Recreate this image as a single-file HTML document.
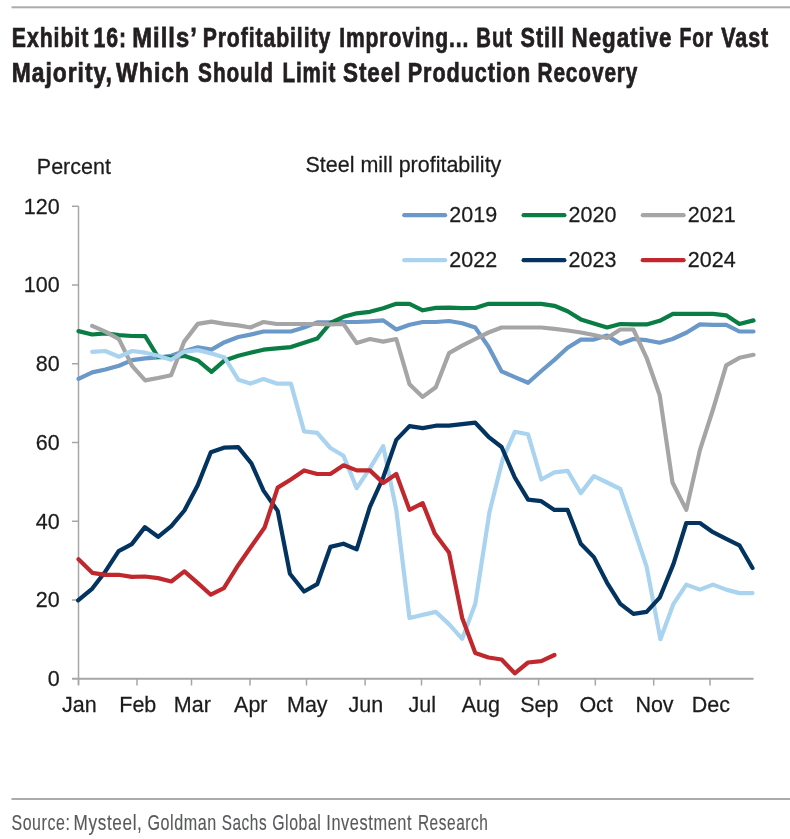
<!DOCTYPE html>
<html><head><meta charset="utf-8"><style>
html,body{margin:0;padding:0;background:#fff;width:790px;height:839px;overflow:hidden;position:relative}
svg{filter:blur(0.35px)}
</style></head><body>
<svg width="790" height="839" style="position:absolute;left:0;top:0"><rect x="11.5" y="6.3" width="778.5" height="2" fill="#ababab"/><rect x="11.5" y="798" width="778.5" height="2" fill="#ababab"/><line x1="78.5" y1="206.25" x2="78.5" y2="685" stroke="#a6a6a6" stroke-width="1.5"/><line x1="72" y1="600.00" x2="78.5" y2="600.00" stroke="#a6a6a6" stroke-width="1.5"/><line x1="72" y1="521.25" x2="78.5" y2="521.25" stroke="#a6a6a6" stroke-width="1.5"/><line x1="72" y1="442.50" x2="78.5" y2="442.50" stroke="#a6a6a6" stroke-width="1.5"/><line x1="72" y1="363.75" x2="78.5" y2="363.75" stroke="#a6a6a6" stroke-width="1.5"/><line x1="72" y1="285.00" x2="78.5" y2="285.00" stroke="#a6a6a6" stroke-width="1.5"/><line x1="72" y1="206.25" x2="78.5" y2="206.25" stroke="#a6a6a6" stroke-width="1.5"/><line x1="72" y1="678.75" x2="753.5" y2="678.75" stroke="#a6a6a6" stroke-width="2"/><line x1="78.5" y1="678.75" x2="78.5" y2="685.5" stroke="#a6a6a6" stroke-width="1.5"/><line x1="137.0" y1="678.75" x2="137.0" y2="685.5" stroke="#a6a6a6" stroke-width="1.5"/><line x1="191.5" y1="678.75" x2="191.5" y2="685.5" stroke="#a6a6a6" stroke-width="1.5"/><line x1="250.0" y1="678.75" x2="250.0" y2="685.5" stroke="#a6a6a6" stroke-width="1.5"/><line x1="306.5" y1="678.75" x2="306.5" y2="685.5" stroke="#a6a6a6" stroke-width="1.5"/><line x1="365.1" y1="678.75" x2="365.1" y2="685.5" stroke="#a6a6a6" stroke-width="1.5"/><line x1="421.5" y1="678.75" x2="421.5" y2="685.5" stroke="#a6a6a6" stroke-width="1.5"/><line x1="480.1" y1="678.75" x2="480.1" y2="685.5" stroke="#a6a6a6" stroke-width="1.5"/><line x1="538.6" y1="678.75" x2="538.6" y2="685.5" stroke="#a6a6a6" stroke-width="1.5"/><line x1="595.3" y1="678.75" x2="595.3" y2="685.5" stroke="#a6a6a6" stroke-width="1.5"/><line x1="653.7" y1="678.75" x2="653.7" y2="685.5" stroke="#a6a6a6" stroke-width="1.5"/><line x1="710.0" y1="678.75" x2="710.0" y2="685.5" stroke="#a6a6a6" stroke-width="1.5"/><polyline points="78.5,378.9 92.2,372.4 105.3,369.5 119.0,365.8 132.1,360.1 145.2,358.4 158.0,357.5 171.1,355.8 184.2,351.3 197.8,347.3 211.5,349.6 224.6,342.2 238.3,337.0 250.4,334.6 263.5,331.5 276.7,331.5 290.9,331.5 304.1,327.5 317.2,322.4 330.4,322.4 343.5,322.0 356.7,322.0 369.9,321.4 383.2,320.4 396.3,329.5 409.5,324.8 422.7,322.0 435.8,322.0 449.0,321.0 462.2,323.2 475.3,327.6 488.5,346.7 501.6,371.4 514.8,377.1 528.1,382.8 541.3,371.0 554.4,359.9 567.6,347.7 580.8,339.6 593.9,339.6 607.1,335.6 620.3,343.7 633.4,339.0 646.6,340.2 659.7,342.7 672.5,339.0 686.7,332.5 699.9,324.4 713.0,324.8 726.2,324.8 739.4,331.5 753.5,331.5" fill="none" stroke="#6a98c8" stroke-width="4.2" stroke-linejoin="round" stroke-linecap="round"/><polyline points="78.5,331.1 92.2,334.5 105.3,333.4 119.0,335.1 132.1,336.0 145.2,336.2 158.0,357.0 171.1,357.5 184.2,355.8 197.8,360.4 211.5,371.8 224.6,360.4 238.3,355.8 250.4,352.8 263.5,349.7 276.7,348.3 290.9,347.1 304.1,342.7 317.2,338.6 330.4,323.0 343.5,316.8 356.7,313.3 369.9,311.8 383.2,308.2 396.3,303.8 409.5,303.8 422.7,310.3 435.8,307.9 449.0,307.6 462.2,308.2 475.3,308.0 488.5,303.8 501.6,303.8 514.8,303.8 528.1,303.8 541.3,303.8 554.4,305.8 567.6,311.3 580.8,319.4 593.9,323.4 607.1,327.5 620.3,324.0 633.4,324.4 646.6,324.4 659.7,320.8 672.9,313.9 686.7,313.9 699.9,313.9 713.0,313.9 726.2,315.3 739.4,324.0 753.5,320.4" fill="none" stroke="#0a7d45" stroke-width="4.2" stroke-linejoin="round" stroke-linecap="round"/><polyline points="92.2,325.9 105.3,331.6 119.0,339.1 132.1,365.8 145.2,380.4 158.0,378.0 171.1,375.2 184.2,341.6 197.8,323.9 211.5,321.6 224.6,323.9 238.3,325.4 250.4,327.5 263.5,322.0 276.7,324.0 290.9,324.0 304.1,324.0 317.2,324.0 330.4,324.4 343.5,324.0 356.7,343.1 369.9,339.0 383.2,341.6 396.3,339.0 409.5,384.2 422.7,396.9 435.8,387.2 449.0,353.2 462.2,345.7 475.3,339.0 488.5,332.5 501.6,327.5 514.8,327.5 528.1,327.5 541.3,327.5 554.4,328.9 567.6,330.5 580.8,332.5 593.9,335.0 607.1,338.0 620.3,329.5 633.4,329.5 646.6,357.8 659.7,395.3 672.5,482.5 686.3,509.9 699.9,450.1 713.0,409.5 726.2,365.3 739.4,357.8 753.5,354.8" fill="none" stroke="#a5a5a5" stroke-width="4.2" stroke-linejoin="round" stroke-linecap="round"/><polyline points="92.2,351.9 105.3,351.0 119.0,356.7 132.1,351.0 145.2,352.7 158.0,355.8 171.1,359.8 184.2,351.8 197.8,350.1 211.5,353.5 224.6,357.5 238.3,379.7 250.4,383.6 263.5,379.1 276.7,383.6 290.9,383.6 304.1,431.4 317.2,432.8 330.4,448.0 343.5,455.8 356.7,488.2 369.9,468.4 383.2,446.1 396.3,509.9 409.5,618.0 422.7,614.9 435.8,611.9 449.0,624.1 462.2,638.8 475.3,603.8 489.5,511.9 502.7,459.2 514.8,431.8 528.0,434.2 541.3,479.5 554.4,472.4 567.6,470.8 580.8,493.1 593.9,476.1 607.1,482.5 620.3,489.0 633.4,527.1 646.6,566.6 660.4,639.2 673.5,603.8 686.3,584.6 699.9,589.6 713.0,584.6 726.2,589.6 739.4,593.1 752.5,593.1" fill="none" stroke="#a9d3ef" stroke-width="4.2" stroke-linejoin="round" stroke-linecap="round"/><polyline points="78.1,600.4 92.3,588.6 105.4,571.4 118.6,551.1 131.8,544.1 144.9,527.1 158.1,536.8 171.3,526.1 184.4,510.5 197.6,485.6 210.8,452.2 223.9,447.7 238.2,447.1 251.4,463.3 263.5,490.6 277.7,510.9 289.9,573.7 304.1,591.5 317.2,584.2 330.4,546.9 343.5,543.7 356.7,549.4 369.9,506.8 383.2,477.5 396.3,439.9 409.5,426.1 422.7,428.1 435.8,425.7 449.0,425.7 462.2,424.1 475.3,422.7 488.5,436.8 501.6,447.0 514.8,477.5 528.1,499.7 541.3,501.2 554.4,509.9 567.6,509.9 580.8,543.7 593.9,557.1 607.1,582.8 620.3,603.8 633.4,613.9 646.6,611.9 659.7,597.7 673.5,563.9 686.3,523.0 699.9,523.0 713.0,532.2 726.2,538.8 739.4,545.3 752.5,568.0" fill="none" stroke="#03335f" stroke-width="4.2" stroke-linejoin="round" stroke-linecap="round"/><polyline points="78.5,559.2 92.3,572.8 105.4,574.8 118.6,574.8 131.8,576.9 144.9,576.5 158.1,578.1 171.3,581.5 184.4,571.4 197.6,582.9 210.8,594.7 223.9,588.2 238.2,565.2 251.4,546.3 264.6,527.5 277.7,487.6 290.9,479.5 304.1,470.4 317.2,474.0 330.4,474.0 343.5,465.3 356.7,470.4 369.9,470.4 383.2,482.9 396.3,474.0 409.5,509.9 422.7,503.2 434.8,533.6 449.0,552.4 462.2,618.0 475.3,653.0 488.5,657.5 501.6,659.5 514.8,673.3 528.0,662.5 541.3,661.1 554.4,655.0" fill="none" stroke="#c0282d" stroke-width="4.2" stroke-linejoin="round" stroke-linecap="round"/><line x1="404.3" y1="215.2" x2="445.1" y2="215.2" stroke="#6a98c8" stroke-width="4.2" stroke-linecap="round"/><line x1="523.5999999999999" y1="215.2" x2="564.4" y2="215.2" stroke="#0a7d45" stroke-width="4.2" stroke-linecap="round"/><line x1="642.8" y1="215.2" x2="683.6" y2="215.2" stroke="#a5a5a5" stroke-width="4.2" stroke-linecap="round"/><line x1="404.3" y1="260.2" x2="445.1" y2="260.2" stroke="#a9d3ef" stroke-width="4.2" stroke-linecap="round"/><line x1="523.5999999999999" y1="260.2" x2="564.4" y2="260.2" stroke="#03335f" stroke-width="4.2" stroke-linecap="round"/><line x1="642.8" y1="260.2" x2="683.6" y2="260.2" stroke="#c0282d" stroke-width="4.2" stroke-linecap="round"/><text transform="translate(449.30,221.70) scale(1,1.04)" font-family="Liberation Sans, sans-serif" font-size="21.5" fill="#1c1c1c" stroke="#1c1c1c" stroke-width="0.25" text-anchor="start">2019</text><text transform="translate(568.60,221.70) scale(1,1.04)" font-family="Liberation Sans, sans-serif" font-size="21.5" fill="#1c1c1c" stroke="#1c1c1c" stroke-width="0.25" text-anchor="start">2020</text><text transform="translate(687.80,221.70) scale(1,1.04)" font-family="Liberation Sans, sans-serif" font-size="21.5" fill="#1c1c1c" stroke="#1c1c1c" stroke-width="0.25" text-anchor="start">2021</text><text transform="translate(449.30,266.70) scale(1,1.04)" font-family="Liberation Sans, sans-serif" font-size="21.5" fill="#1c1c1c" stroke="#1c1c1c" stroke-width="0.25" text-anchor="start">2022</text><text transform="translate(568.60,266.70) scale(1,1.04)" font-family="Liberation Sans, sans-serif" font-size="21.5" fill="#1c1c1c" stroke="#1c1c1c" stroke-width="0.25" text-anchor="start">2023</text><text transform="translate(687.80,266.70) scale(1,1.04)" font-family="Liberation Sans, sans-serif" font-size="21.5" fill="#1c1c1c" stroke="#1c1c1c" stroke-width="0.25" text-anchor="start">2024</text><text transform="translate(47.70,686.15) scale(1,1.04)" font-family="Liberation Sans, sans-serif" font-size="21.5" fill="#1c1c1c" stroke="#1c1c1c" stroke-width="0.25" text-anchor="start">0</text><text transform="translate(35.70,607.40) scale(1,1.04)" font-family="Liberation Sans, sans-serif" font-size="21.5" fill="#1c1c1c" stroke="#1c1c1c" stroke-width="0.25" text-anchor="start">20</text><text transform="translate(35.70,528.65) scale(1,1.04)" font-family="Liberation Sans, sans-serif" font-size="21.5" fill="#1c1c1c" stroke="#1c1c1c" stroke-width="0.25" text-anchor="start">40</text><text transform="translate(35.70,449.90) scale(1,1.04)" font-family="Liberation Sans, sans-serif" font-size="21.5" fill="#1c1c1c" stroke="#1c1c1c" stroke-width="0.25" text-anchor="start">60</text><text transform="translate(35.70,371.15) scale(1,1.04)" font-family="Liberation Sans, sans-serif" font-size="21.5" fill="#1c1c1c" stroke="#1c1c1c" stroke-width="0.25" text-anchor="start">80</text><text transform="translate(23.80,292.40) scale(1,1.04)" font-family="Liberation Sans, sans-serif" font-size="21.5" fill="#1c1c1c" stroke="#1c1c1c" stroke-width="0.25" text-anchor="start">100</text><text transform="translate(23.80,213.65) scale(1,1.04)" font-family="Liberation Sans, sans-serif" font-size="21.5" fill="#1c1c1c" stroke="#1c1c1c" stroke-width="0.25" text-anchor="start">120</text><text transform="translate(79.30,712.00) scale(1,1.04)" font-family="Liberation Sans, sans-serif" font-size="21.5" fill="#1c1c1c" stroke="#1c1c1c" stroke-width="0.25" text-anchor="middle">Jan</text><text transform="translate(137.80,712.00) scale(1,1.04)" font-family="Liberation Sans, sans-serif" font-size="21.5" fill="#1c1c1c" stroke="#1c1c1c" stroke-width="0.25" text-anchor="middle">Feb</text><text transform="translate(192.30,712.00) scale(1,1.04)" font-family="Liberation Sans, sans-serif" font-size="21.5" fill="#1c1c1c" stroke="#1c1c1c" stroke-width="0.25" text-anchor="middle">Mar</text><text transform="translate(250.80,712.00) scale(1,1.04)" font-family="Liberation Sans, sans-serif" font-size="21.5" fill="#1c1c1c" stroke="#1c1c1c" stroke-width="0.25" text-anchor="middle">Apr</text><text transform="translate(307.30,712.00) scale(1,1.04)" font-family="Liberation Sans, sans-serif" font-size="21.5" fill="#1c1c1c" stroke="#1c1c1c" stroke-width="0.25" text-anchor="middle">May</text><text transform="translate(365.90,712.00) scale(1,1.04)" font-family="Liberation Sans, sans-serif" font-size="21.5" fill="#1c1c1c" stroke="#1c1c1c" stroke-width="0.25" text-anchor="middle">Jun</text><text transform="translate(422.30,712.00) scale(1,1.04)" font-family="Liberation Sans, sans-serif" font-size="21.5" fill="#1c1c1c" stroke="#1c1c1c" stroke-width="0.25" text-anchor="middle">Jul</text><text transform="translate(480.90,712.00) scale(1,1.04)" font-family="Liberation Sans, sans-serif" font-size="21.5" fill="#1c1c1c" stroke="#1c1c1c" stroke-width="0.25" text-anchor="middle">Aug</text><text transform="translate(539.40,712.00) scale(1,1.04)" font-family="Liberation Sans, sans-serif" font-size="21.5" fill="#1c1c1c" stroke="#1c1c1c" stroke-width="0.25" text-anchor="middle">Sep</text><text transform="translate(596.10,712.00) scale(1,1.04)" font-family="Liberation Sans, sans-serif" font-size="21.5" fill="#1c1c1c" stroke="#1c1c1c" stroke-width="0.25" text-anchor="middle">Oct</text><text transform="translate(654.50,712.00) scale(1,1.04)" font-family="Liberation Sans, sans-serif" font-size="21.5" fill="#1c1c1c" stroke="#1c1c1c" stroke-width="0.25" text-anchor="middle">Nov</text><text transform="translate(710.80,712.00) scale(1,1.04)" font-family="Liberation Sans, sans-serif" font-size="21.5" fill="#1c1c1c" stroke="#1c1c1c" stroke-width="0.25" text-anchor="middle">Dec</text><text transform="translate(36.80,174.10) scale(1,1.04)" font-family="Liberation Sans, sans-serif" font-size="21.5" fill="#1c1c1c" stroke="#1c1c1c" stroke-width="0.25" text-anchor="start">Percent</text><text transform="translate(305.50,172.00) scale(1,1.04)" font-family="Liberation Sans, sans-serif" font-size="21.5" fill="#1c1c1c" stroke="#1c1c1c" stroke-width="0.25" text-anchor="start">Steel mill profitability</text><text transform="translate(11.86,47.3) scale(0.7599,1)" font-family="Liberation Sans, sans-serif" font-size="28" font-weight="bold" fill="#231f20" stroke="#231f20" stroke-width="0.75" letter-spacing="1.2">Exhibit</text><text transform="translate(93.54,47.3) scale(0.7572,1)" font-family="Liberation Sans, sans-serif" font-size="28" font-weight="bold" fill="#231f20" stroke="#231f20" stroke-width="0.75" letter-spacing="1.2">16:</text><text transform="translate(132.29,47.3) scale(0.8490,1)" font-family="Liberation Sans, sans-serif" font-size="28" font-weight="bold" fill="#231f20" stroke="#231f20" stroke-width="0.75" letter-spacing="1.2">Mills’</text><text transform="translate(202.66,47.3) scale(0.7577,1)" font-family="Liberation Sans, sans-serif" font-size="28" font-weight="bold" fill="#231f20" stroke="#231f20" stroke-width="0.75" letter-spacing="1.2">Profitability</text><text transform="translate(339.17,47.3) scale(0.7525,1)" font-family="Liberation Sans, sans-serif" font-size="28" font-weight="bold" fill="#231f20" stroke="#231f20" stroke-width="0.75" letter-spacing="1.2">Improving...</text><text transform="translate(476.32,47.3) scale(0.7265,1)" font-family="Liberation Sans, sans-serif" font-size="28" font-weight="bold" fill="#231f20" stroke="#231f20" stroke-width="0.75" letter-spacing="1.2">But</text><text transform="translate(520.58,47.3) scale(0.7715,1)" font-family="Liberation Sans, sans-serif" font-size="28" font-weight="bold" fill="#231f20" stroke="#231f20" stroke-width="0.75" letter-spacing="1.2">Still</text><text transform="translate(571.58,47.3) scale(0.7995,1)" font-family="Liberation Sans, sans-serif" font-size="28" font-weight="bold" fill="#231f20" stroke="#231f20" stroke-width="0.75" letter-spacing="1.2">Negative</text><text transform="translate(679.58,47.3) scale(0.6947,1)" font-family="Liberation Sans, sans-serif" font-size="28" font-weight="bold" fill="#231f20" stroke="#231f20" stroke-width="0.75" letter-spacing="1.2">For</text><text transform="translate(721.25,47.3) scale(0.7677,1)" font-family="Liberation Sans, sans-serif" font-size="28" font-weight="bold" fill="#231f20" stroke="#231f20" stroke-width="0.75" letter-spacing="1.2">Vast</text><text transform="translate(11.75,81.6) scale(0.8158,1)" font-family="Liberation Sans, sans-serif" font-size="28" font-weight="bold" fill="#231f20" stroke="#231f20" stroke-width="0.75" letter-spacing="1.2">Majority,</text><text transform="translate(116.10,81.6) scale(0.8232,1)" font-family="Liberation Sans, sans-serif" font-size="28" font-weight="bold" fill="#231f20" stroke="#231f20" stroke-width="0.75" letter-spacing="1.2">Which</text><text transform="translate(198.11,81.6) scale(0.7436,1)" font-family="Liberation Sans, sans-serif" font-size="28" font-weight="bold" fill="#231f20" stroke="#231f20" stroke-width="0.75" letter-spacing="1.2">Should</text><text transform="translate(282.50,81.6) scale(0.7367,1)" font-family="Liberation Sans, sans-serif" font-size="28" font-weight="bold" fill="#231f20" stroke="#231f20" stroke-width="0.75" letter-spacing="1.2">Limit</text><text transform="translate(342.96,81.6) scale(0.8026,1)" font-family="Liberation Sans, sans-serif" font-size="28" font-weight="bold" fill="#231f20" stroke="#231f20" stroke-width="0.75" letter-spacing="1.2">Steel</text><text transform="translate(407.73,81.6) scale(0.7723,1)" font-family="Liberation Sans, sans-serif" font-size="28" font-weight="bold" fill="#231f20" stroke="#231f20" stroke-width="0.75" letter-spacing="1.2">Production</text><text transform="translate(537.49,81.6) scale(0.7432,1)" font-family="Liberation Sans, sans-serif" font-size="28" font-weight="bold" fill="#231f20" stroke="#231f20" stroke-width="0.75" letter-spacing="1.2">Recovery</text><text transform="translate(11.43,830) scale(0.7253,1)" font-family="Liberation Sans, sans-serif" font-size="22" font-weight="normal" fill="#58595b" stroke="#58595b" stroke-width="0.15" letter-spacing="0.8">Source:</text><text transform="translate(73.55,830) scale(0.7811,1)" font-family="Liberation Sans, sans-serif" font-size="22" font-weight="normal" fill="#58595b" stroke="#58595b" stroke-width="0.15" letter-spacing="0.8">Mysteel,</text><text transform="translate(147.45,830) scale(0.7331,1)" font-family="Liberation Sans, sans-serif" font-size="22" font-weight="normal" fill="#58595b" stroke="#58595b" stroke-width="0.15" letter-spacing="0.8">Goldman</text><text transform="translate(221.66,830) scale(0.6989,1)" font-family="Liberation Sans, sans-serif" font-size="22" font-weight="normal" fill="#58595b" stroke="#58595b" stroke-width="0.15" letter-spacing="0.8">Sachs</text><text transform="translate(272.17,830) scale(0.7212,1)" font-family="Liberation Sans, sans-serif" font-size="22" font-weight="normal" fill="#58595b" stroke="#58595b" stroke-width="0.15" letter-spacing="0.8">Global</text><text transform="translate(326.27,830) scale(0.7434,1)" font-family="Liberation Sans, sans-serif" font-size="22" font-weight="normal" fill="#58595b" stroke="#58595b" stroke-width="0.15" letter-spacing="0.8">Investment</text><text transform="translate(417.90,830) scale(0.7013,1)" font-family="Liberation Sans, sans-serif" font-size="22" font-weight="normal" fill="#58595b" stroke="#58595b" stroke-width="0.15" letter-spacing="0.8">Research</text></svg>
</body></html>
